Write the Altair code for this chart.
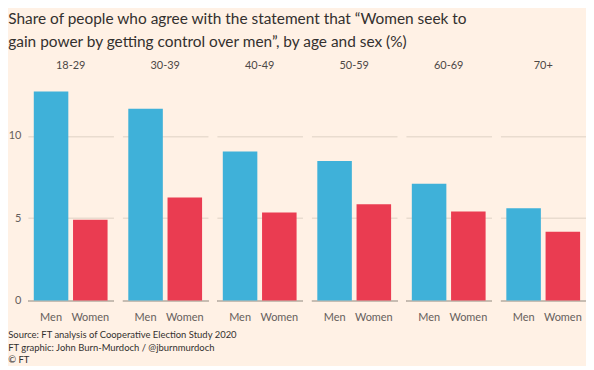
import altair as alt
import pandas as pd

ages = ["18-29", "30-39", "40-49", "50-59", "60-69", "70+"]
sexes = ["Men", "Women"]
men = [12.7, 11.65, 9.05, 8.47, 7.09, 5.6]
women = [4.9, 6.26, 5.35, 5.84, 5.41, 4.18]

rows = []
for i, a in enumerate(ages):
    rows.append({"age": a, "sex": "Men", "value": men[i]})
    rows.append({"age": a, "sex": "Women", "value": women[i]})
df = pd.DataFrame(rows)

BG = "#fff1e5"
TXT = "#33302e"
FONT = "Lato"

bars = alt.Chart(df).mark_bar().encode(
    x=alt.X("sex:N", sort=sexes, title=None,
            scale=alt.Scale(paddingInner=0.12, paddingOuter=0.15),
            axis=alt.Axis(labelAngle=0, ticks=False, domain=True, domainColor="#66605c",
                          domainWidth=2, labelColor="#66605c", labelFontSize=11,
                          labelFont=FONT, labelPadding=11)),
    y=alt.Y("value:Q", title=None,
            scale=alt.Scale(domain=[0, 13], nice=False),
            axis=alt.Axis(values=[0, 5, 10], ticks=False, domain=False, gridColor="#e9dccf",
                          gridWidth=1.5, labelColor="#66605c", labelFontSize=11,
                          labelFont=FONT, labelPadding=7)),
    color=alt.Color("sex:N", scale=alt.Scale(domain=sexes, range=["#3fb1d9", "#ea3c51"]),
                    legend=None),
).properties(width=86, height=215)

facet = bars.facet(
    column=alt.Column("age:N", sort=ages, title=None,
                      header=alt.Header(labelFontSize=11, labelColor="#4d4845", labelFont=FONT,
                                        labelPadding=16)),
    spacing=9,
).properties(
    title=alt.TitleParams(
        ["Share of people who agree with the statement that \u201cWomen seek to",
         "gain power by getting control over men\u201d, by age and sex (%)"],
        anchor="start", frame="bounds", fontSize=15.5, font=FONT, fontWeight="normal",
        color=TXT, lineHeight=23, offset=9,
    )
)

chart = alt.vconcat(facet).properties(
    title=alt.TitleParams(
        ["Source: FT analysis of Cooperative Election Study 2020",
         "FT graphic: John Burn-Murdoch / @jburnmurdoch",
         "\u00a9 FT"],
        orient="bottom", anchor="start", frame="bounds", fontSize=9.5, font=FONT,
        fontWeight="normal", color=TXT, lineHeight=12.5, offset=8,
    ),
    padding={"left": 0, "top": 3, "right": 0, "bottom": 0},
).configure(background=BG).configure_view(stroke=None)

chart.save("out.html", embed_options={"renderer": "svg", "actions": False})
